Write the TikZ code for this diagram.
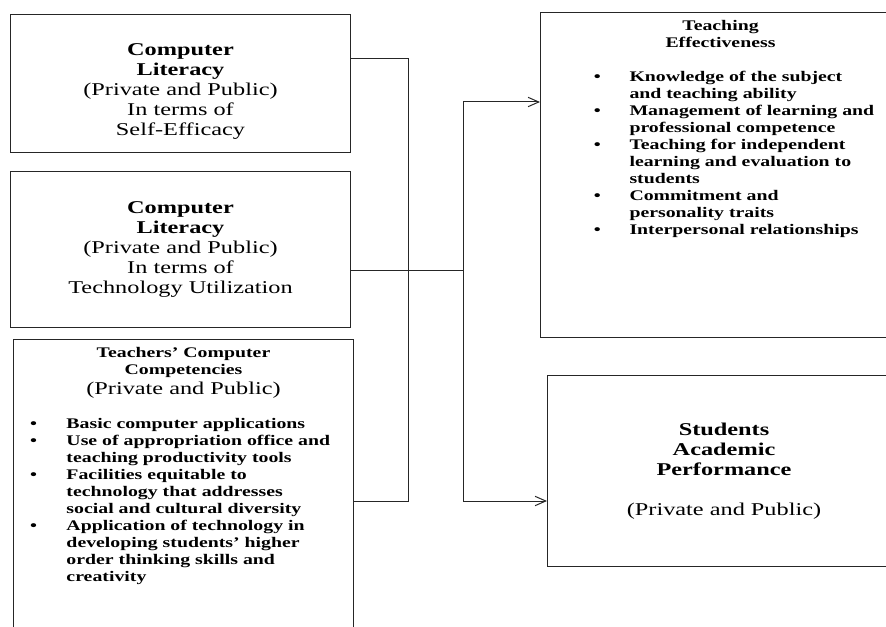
\documentclass[tikz,border=0pt]{standalone}
\usepackage{fontspec}
\setmainfont{Liberation Serif}[FakeStretch=1.35]
\usetikzlibrary{arrows.meta, positioning}
\newcommand{\bigtxt}{\fontsize{13.5}{15}\selectfont}
\newcommand{\smalltxt}{\fontsize{11}{12.75}\selectfont}
\newenvironment{blist}[2]{\begin{list}{\textbullet}{%
  \setlength{\leftmargin}{#1}\setlength{\labelsep}{#2}%
  \setlength{\labelwidth}{\dimexpr#1-#2\relax}\setlength{\itemindent}{0pt}%
  \setlength{\itemsep}{0pt}\setlength{\parsep}{0pt}%
  \setlength{\topsep}{0pt}\setlength{\partopsep}{0pt}}\raggedright}{\end{list}}

\begin{document}
\begin{tikzpicture}[
  x=0.75pt, y=-0.75pt,
  every node/.style={draw=black!85, line width=0.75pt, inner sep=0pt},
  litbox/.style={anchor=north west, minimum width=255pt, align=center, font=\bigtxt},
  listbox/.style={anchor=north west, inner ysep=6pt},
  arr/.style={-{Straight Barb[length=8pt,width=7pt]}}
]
\useasboundingbox (0,0) rectangle (886,627);
\clip (0,0) rectangle (886,627);

% left column
\node[litbox, minimum height=103.5pt] (selfeff) at (10,14)
  {\rule{0pt}{21pt}\textbf{Computer}\\ \textbf{Literacy}\\ (Private and Public)\\ In terms of\\ Self-Efficacy};
\node[litbox, minimum height=117pt] (techuse) at (10,171)
  {\textbf{Computer}\\ \textbf{Literacy}\\ (Private and Public)\\ In terms of\\ Technology Utilization};
\node[listbox] (comp) at (13,339) {\parbox[t][230pt][t]{255pt}{\centering
  \smalltxt\bfseries Teachers' Computer\\ Competencies\\
  \bigtxt\mdseries (Private and Public)\par
  \smalltxt\bfseries\vspace{12.75pt}
  \begin{blist}{39.75pt}{22pt}
  \item Basic computer applications
  \item Use of appropriation office and\\ teaching productivity tools
  \item Facilities equitable to\\ technology that addresses\\ social and cultural diversity
  \item Application of technology in\\ developing students' higher\\ order thinking skills and\\ creativity
  \end{blist}}};

% right column
\node[listbox] (teach) at (540,12) {\parbox[t][231.75pt][t]{270pt}{\centering
  \smalltxt\bfseries Teaching\\ Effectiveness\par
  \vspace{12.75pt}
  \begin{blist}{66.75pt}{21.5pt}
  \item Knowledge of the subject\\ and teaching ability
  \item Management of learning and\\ professional competence
  \item Teaching for independent\\ learning and evaluation to\\ students
  \item Commitment and\\ personality traits
  \item Interpersonal relationships
  \end{blist}}};
\node[litbox, minimum width=264.75pt, minimum height=143.25pt] (perf) at (547,375)
  {\textbf{Students}\\ \textbf{Academic}\\ \textbf{Performance}\\[15pt] (Private and Public)};

% connectors
\coordinate (jtop) at (408,59);
\coordinate (jbot) at (408,501);
\coordinate (hub) at (463,271);
\coordinate (atop) at (463,102);
\coordinate (abot) at (463,501);
\draw[draw=black!85, line width=0.75pt] (selfeff.east |- jtop) -- (jtop) -- (jbot) -- (comp.east |- jbot);
\draw[draw=black!85, line width=0.75pt] (techuse.east |- hub) -- (hub);
\draw[arr, draw=black!85, line width=0.75pt] (hub) |- (teach.west |- atop);
\draw[arr, draw=black!85, line width=0.75pt] (hub) |- (perf.west |- abot);
\end{tikzpicture}
\end{document}
